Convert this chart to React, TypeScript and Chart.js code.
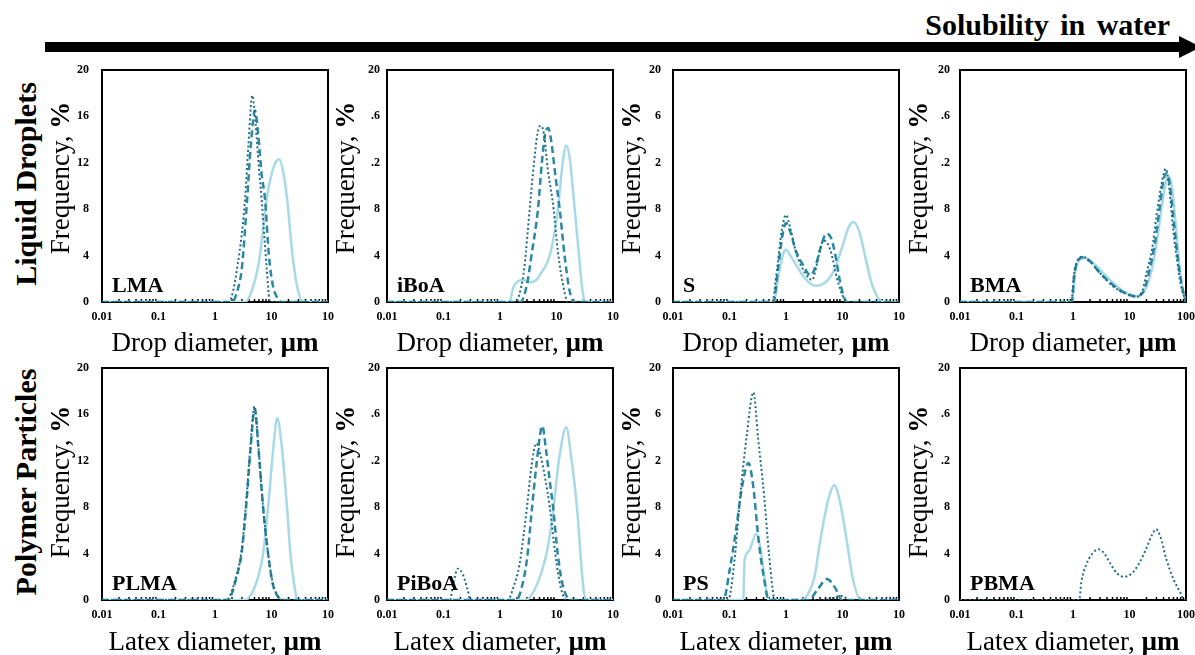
import React, { useEffect, useRef } from "react";
import { Chart, registerables } from "chart.js";
Chart.register(...registerables);

// ---------- axis ticks ----------
const X_TICKS = [0.01, 0.1, 1, 10, 100];
const X_LABELS_CUT = ["0.01", "0.1", "1", "10", "10"];
const X_LABELS_FULL = ["0.01", "0.1", "1", "10", "100"];
const Y_TICKS = [0, 4, 8, 12, 16, 20];
const Y_LABELS_FULL = ["0", "4", "8", "12", "16", "20"];
const Y_LABELS_DOT = ["0", "4", "8", ".2", ".6", "20"];
const Y_LABELS_SHORT = ["0", "4", "8", "2", "6", "20"];
const MINOR_MULT = [2, 3, 4, 5, 6, 7, 8, 9];
const DECADES = [0.01, 0.1, 1, 10];

// ---------- data: [diameter (µm), frequency (%)] ----------
const LMA_DOT = [[0.01,0],[1.8,0],[2.1,1],[2.48,3],[3,6],[3.4,8.8],[3.9,13.5],[4.57,17.8],[5.2,15.5],[6,11.5],[6.7,8.8],[7.5,5.5],[8.2,3],[9.4,0],[100,0]];
const LMA_DASH = [[0.01,0],[2.0,0],[2.5,1],[3,3],[3.7,8.8],[4.3,13.5],[5.1,16.5],[5.8,14.5],[6.7,11],[7.7,8.8],[9,4],[10.5,1.5],[12.5,0.4],[15,0],[100,0]];
const LMA_SOLID = [[0.01,0],[3.4,0],[4.5,1],[6,3.5],[8.2,8.8],[10,11],[12,12.1],[13.7,12.3],[16,11.3],[19,8.8],[23,4.5],[28,1.5],[36,0],[100,0]];

const IBOA_DOT = [[0.01,0],[1.9,0],[2.3,1],[2.7,3],[3.35,8],[4,12],[4.6,14.5],[5.2,15.2],[6,14.5],[7,11.5],[8.9,8],[10.5,4.5],[12.5,2],[16,0],[100,0]];
const IBOA_DASH = [[0.01,0],[2.3,0],[3,1.5],[3.6,4],[4.7,8],[5.5,12],[6.3,14.5],[7.1,15],[8,14],[9.5,11],[11.4,8],[13.9,4],[17,1],[21,0],[100,0]];
const IBOA_SOLID = [[0.01,0],[1.48,0],[1.7,1.2],[2.1,1.8],[2.6,1.9],[3.3,1.7],[4.4,1.9],[5.5,2.6],[7.6,4],[10.6,8],[12.5,11.5],[14.9,13.5],[17,12.5],[21,8],[25,4],[28,1.5],[32,0],[100,0]];

const S_DOT = [[0.01,0],[0.57,0],[0.7,3],[0.85,6.3],[1,7.5],[1.2,6.3],[1.5,4.3],[2,2.8],[2.9,1.9],[3.5,3.2],[4,4.5],[4.6,5.3],[5.5,5],[6.5,4],[8,2],[10,0.6],[12,0],[100,0]];
const S_DASH = [[0.01,0],[0.6,0],[0.72,2.8],[0.87,5.8],[1,6.8],[1.2,6],[1.5,4.4],[2,3.2],[2.7,2.3],[3.3,3],[4,4.5],[5.2,5.9],[6.3,5.5],[7.5,4],[9,1.8],[10.5,0.5],[12,0],[100,0]];
const S_SOLID = [[0.01,0],[0.6,0],[0.75,2.5],[0.9,4.2],[1,4.5],[1.2,4],[1.6,3],[2.2,2],[3.3,1.4],[5,1.7],[7,2.7],[10,4.8],[13,6.5],[15.8,6.9],[20,6],[25,4],[32,1.8],[42,0.4],[55,0],[100,0]];

const BMA_DOT = [[0.01,0],[0.93,0],[1.05,2.5],[1.2,3.6],[1.5,3.9],[2,3.5],[3,2.5],[5,1.4],[8,0.8],[13,0.45],[17,1],[20,2.5],[25,4.5],[30,7.4],[38,10.5],[44,11.5],[50,10],[60,6],[70,3.5],[80,1.6],[95,0.3],[100,0]];
const BMA_DASH = [[0.01,0],[0.95,0],[1.05,2.3],[1.2,3.5],[1.5,3.85],[2,3.5],[3,2.5],[5,1.5],[8,0.8],[13,0.5],[18,1],[22,2.5],[28,5],[34,8],[40,10.5],[46,11.1],[52,10],[62,6.5],[75,3],[88,1],[100,0]];
const BMA_SOLID = [[0.01,0],[0.97,0],[1.07,2.2],[1.25,3.5],[1.6,3.8],[2,3.6],[3,2.8],[5,1.7],[8,0.9],[13,0.5],[18,0.9],[24,2.5],[30,5],[38,8.5],[45,10.5],[50,10.8],[56,10],[65,7],[75,3.5],[88,1],[100,0]];

const PLMA_DOT = [[0.01,0],[1.6,0],[1.82,0.3],[2.3,1.8],[2.9,4],[3.5,8],[4.2,13],[5.0,16.7],[5.8,13.5],[7.1,8],[8.7,4],[10.5,1.5],[13,0.3],[16,0],[100,0]];
const PLMA_DASH = [[0.01,0],[1.7,0],[1.9,0.3],[2.35,1.8],[2.95,4],[3.55,8],[4.25,13],[5.05,16.5],[5.85,13.2],[7.1,8],[8.7,4],[10.5,1.4],[13,0.3],[16,0],[100,0]];
const PLMA_SOLID = [[0.01,0],[3.4,0],[4.5,0.6],[5.8,2],[7.1,4],[8.7,8],[10.5,12.5],[12.6,15.7],[15,13.5],[18.8,8],[21.6,4],[25,1.5],[29,0],[100,0]];

const PIBOA_DOT = [[0.01,0],[0.13,0],[0.15,1.5],[0.18,2.7],[0.22,2.2],[0.27,0.8],[0.3,0],[1.38,0],[1.7,1],[2.2,3],[3.0,8],[3.6,11.5],[4.4,13.5],[5.2,12.5],[6.3,10.5],[7.6,8],[9.5,4],[12,1],[15.3,0],[100,0]];
const PIBOA_DASH = [[0.01,0],[1.95,0],[2.4,1],[3,3.5],[3.7,8],[4.5,12],[5.6,15],[6.5,13],[7.5,10.5],[8.7,8],[10.5,4],[13,1.2],[18,0],[100,0]];
const PIBOA_SOLID = [[0.01,0],[2.9,0],[4,0.8],[5.5,2.5],[7,4.5],[8.9,8],[11,12],[14.9,14.9],[18,12.5],[23,8],[27,3.5],[30,1],[33,0],[100,0]];

const PS_DOT = [[0.01,0],[0.095,0],[0.12,3],[0.155,9],[0.2,14],[0.265,17.9],[0.32,14],[0.41,9],[0.5,4],[0.64,0],[5,0],[7,0.2],[10,0.35],[13,0],[100,0]];
const PS_DASH = [[0.01,0],[0.078,0],[0.1,2.5],[0.13,6],[0.17,10],[0.216,11.8],[0.26,10],[0.33,5],[0.42,1.5],[0.49,0],[2.5,0],[3.5,0.8],[5.3,1.8],[7.5,1],[9.8,0],[100,0]];
const PS_SOLID = [[0.01,0],[0.175,0],[0.185,3.4],[0.22,4.2],[0.296,5.7],[0.36,4.2],[0.42,1.8],[0.49,0],[1.8,0],[2.5,0.6],[3.2,2],[4,5],[5.5,8.5],[7.2,9.9],[9,8.5],[12,5],[15,2],[21,0],[100,0]];

const PBMA_DOT = [[0.01,0],[1.29,0],[1.4,1.5],[1.7,3],[2.2,4],[2.85,4.37],[3.6,4],[4.5,3.2],[6,2.3],[8.1,2.0],[11,2.3],[15,3.2],[20,4.5],[25,5.6],[29.5,6.1],[35,5.5],[45,3.5],[60,1.8],[80,0.6],[93,0],[100,0]];

// ---------- layout ----------
const COL_LEFT = [102, 387, 673, 960];
const ROW_TOP = [70, 368];
const BOX_W = 226;
const BOX_H = 232;
const PAD_L = 44;
const PAD_T = 26;
const PAD_R = 26;
const PAD_B = 28;
const SERIF = '"Liberation Serif", "Times New Roman", serif';

type Pt = number[];
type PanelCfg = {
  name: string; row: number; col: number;
  dot?: Pt[]; dash?: Pt[]; solid?: Pt[];
  yLabels: string[]; xLabels: string[]; tickPad: number;
};

const PANELS: PanelCfg[] = [
  { name: "LMA", row: 0, col: 0, dot: LMA_DOT, dash: LMA_DASH, solid: LMA_SOLID, yLabels: Y_LABELS_FULL, xLabels: X_LABELS_CUT, tickPad: 13 },
  { name: "iBoA", row: 0, col: 1, dot: IBOA_DOT, dash: IBOA_DASH, solid: IBOA_SOLID, yLabels: Y_LABELS_DOT, xLabels: X_LABELS_CUT, tickPad: 7 },
  { name: "S", row: 0, col: 2, dot: S_DOT, dash: S_DASH, solid: S_SOLID, yLabels: Y_LABELS_SHORT, xLabels: X_LABELS_CUT, tickPad: 12 },
  { name: "BMA", row: 0, col: 3, dot: BMA_DOT, dash: BMA_DASH, solid: BMA_SOLID, yLabels: Y_LABELS_DOT, xLabels: X_LABELS_FULL, tickPad: 10 },
  { name: "PLMA", row: 1, col: 0, dot: PLMA_DOT, dash: PLMA_DASH, solid: PLMA_SOLID, yLabels: Y_LABELS_FULL, xLabels: X_LABELS_CUT, tickPad: 13 },
  { name: "PiBoA", row: 1, col: 1, dot: PIBOA_DOT, dash: PIBOA_DASH, solid: PIBOA_SOLID, yLabels: Y_LABELS_DOT, xLabels: X_LABELS_CUT, tickPad: 7 },
  { name: "PS", row: 1, col: 2, dot: PS_DOT, dash: PS_DASH, solid: PS_SOLID, yLabels: Y_LABELS_SHORT, xLabels: X_LABELS_CUT, tickPad: 12 },
  { name: "PBMA", row: 1, col: 3, dot: PBMA_DOT, yLabels: Y_LABELS_DOT, xLabels: X_LABELS_FULL, tickPad: 10 },
];

const toXY = (pts: Pt[]) => pts.map(([x, y]) => ({ x, y }));

const framePlugin = {
  id: "frameAndMinor",
  beforeDatasetsDraw(chart: any) {
    const { ctx, chartArea } = chart;
    const xs = chart.scales.x;
    ctx.save();
    ctx.strokeStyle = "#000";
    ctx.lineWidth = 1.5;
    for (const d of DECADES) {
      for (const m of MINOR_MULT) {
        const px = xs.getPixelForValue(d * m);
        ctx.beginPath();
        ctx.moveTo(px, chartArea.bottom);
        ctx.lineTo(px, chartArea.bottom - 3);
        ctx.stroke();
      }
    }
    ctx.lineWidth = 2;
    ctx.strokeRect(chartArea.left, chartArea.top, chartArea.right - chartArea.left, chartArea.bottom - chartArea.top);
    ctx.restore();
  },
};

function Panel({ cfg }: { cfg: PanelCfg }) {
  const ref = useRef<HTMLCanvasElement | null>(null);
  useEffect(() => {
    const datasets: any[] = [];
    if (cfg.dot) datasets.push({ label: "dotted", data: toXY(cfg.dot), borderColor: "#1f6e80", borderWidth: 2, borderDash: [2, 2.5] });
    if (cfg.dash) datasets.push({ label: "dashed", data: toXY(cfg.dash), borderColor: "#2b87a2", borderWidth: 2.5, borderDash: [7, 4] });
    if (cfg.solid) datasets.push({ label: "solid", data: toXY(cfg.solid), borderColor: "#a8d9e6", borderWidth: 2.5 });
    datasets.forEach((d) => { d.showLine = true; d.pointRadius = 0; d.fill = false; d.tension = 0.4; d.cubicInterpolationMode = "monotone"; });
    const tickFont = { family: SERIF, size: 12, weight: "bold" as const };
    const chart = new Chart(ref.current as HTMLCanvasElement, {
      type: "scatter",
      data: { datasets },
      options: {
        animation: false,
        responsive: false,
        maintainAspectRatio: false,
        layout: { padding: { left: 0, top: PAD_T, right: PAD_R, bottom: 0 } },
        plugins: { legend: { display: false }, tooltip: { enabled: false } },
        scales: {
          x: {
            type: "logarithmic",
            min: 0.01,
            max: 100,
            grid: { display: false, drawTicks: false },
            border: { display: false },
            afterBuildTicks: (s: any) => { s.ticks = X_TICKS.map((v) => ({ value: v })); },
            afterFit: (s: any) => { s.height = PAD_B; },
            ticks: {
              autoSkip: false, maxRotation: 0, padding: 8, color: "#000", font: tickFont,
              callback: (_v: any, i: number) => cfg.xLabels[i],
            },
          },
          y: {
            type: "linear",
            min: 0,
            max: 20,
            grid: { display: false, drawTicks: false },
            border: { display: false },
            afterBuildTicks: (s: any) => { s.ticks = Y_TICKS.map((v) => ({ value: v })); },
            afterFit: (s: any) => { s.width = PAD_L; },
            ticks: {
              autoSkip: false, padding: cfg.tickPad, color: "#000", font: tickFont,
              callback: (_v: any, i: number) => cfg.yLabels[i],
            },
          },
        },
      } as any,
      plugins: [framePlugin],
    });
    return () => chart.destroy();
  }, [cfg]);
  const L = COL_LEFT[cfg.col];
  const T = ROW_TOP[cfg.row];
  return (
    <canvas
      ref={ref}
      width={BOX_W + PAD_L + PAD_R}
      height={BOX_H + PAD_T + PAD_B}
      style={{ position: "absolute", left: L - PAD_L, top: T - PAD_T, width: BOX_W + PAD_L + PAD_R, height: BOX_H + PAD_T + PAD_B }}
    />
  );
}

const ROW_XTITLE = ["Drop diameter, ", "Latex diameter, "];
const ROW_XTITLE_Y = [342, 641];
const ROW_YTITLE_Y = [178, 482];
const ROW_NAMES = ["Liquid Droplets", "Polymer Particles"];
const ROW_NAME_Y = [184, 482];

export default function App() {
  const abs: React.CSSProperties = { position: "absolute", whiteSpace: "nowrap", lineHeight: 1, color: "#000", fontFamily: SERIF };
  return (
    <div style={{ position: "fixed", left: 0, top: 0, width: 1195, height: 655, background: "#fff", overflow: "hidden" }}>
      {/* arrow */}
      <svg width={1195} height={70} style={{ position: "absolute", left: 0, top: 0 }}>
        <rect x={45} y={42} width={1136} height={10} fill="#000" />
        <polygon points="1179,36 1201,47 1179,58" fill="#000" />
      </svg>
      <div style={{ ...abs, right: 25, top: 10, fontSize: 30, fontWeight: "bold", wordSpacing: 4 }}>Solubility in water</div>

      {ROW_NAMES.map((n, r) => (
        <div key={n} style={{ ...abs, left: 26, top: ROW_NAME_Y[r], fontSize: 30, fontWeight: "bold", transform: "translate(-50%,-50%) rotate(-90deg)" }}>{n}</div>
      ))}

      {PANELS.map((p) => (
        <Panel key={p.name} cfg={p} />
      ))}

      {PANELS.map((p) => {
        const L = COL_LEFT[p.col];
        const T = ROW_TOP[p.row];
        return (
          <React.Fragment key={p.name + "-txt"}>
            <div style={{ ...abs, left: L - 42, top: ROW_YTITLE_Y[p.row], fontSize: 27, transform: "translate(-50%,-50%) rotate(-90deg)" }}>
              Frequency, <b>%</b>
            </div>
            <div style={{ ...abs, left: L + BOX_W / 2, top: ROW_XTITLE_Y[p.row], fontSize: 27, transform: "translate(-50%,-50%)" }}>
              {ROW_XTITLE[p.row]}<b>µm</b>
            </div>
            <div style={{ ...abs, left: L + 10, top: T + BOX_H - 10 - 18.4, fontSize: 22, fontWeight: "bold" }}>{p.name}</div>
          </React.Fragment>
        );
      })}
    </div>
  );
}
